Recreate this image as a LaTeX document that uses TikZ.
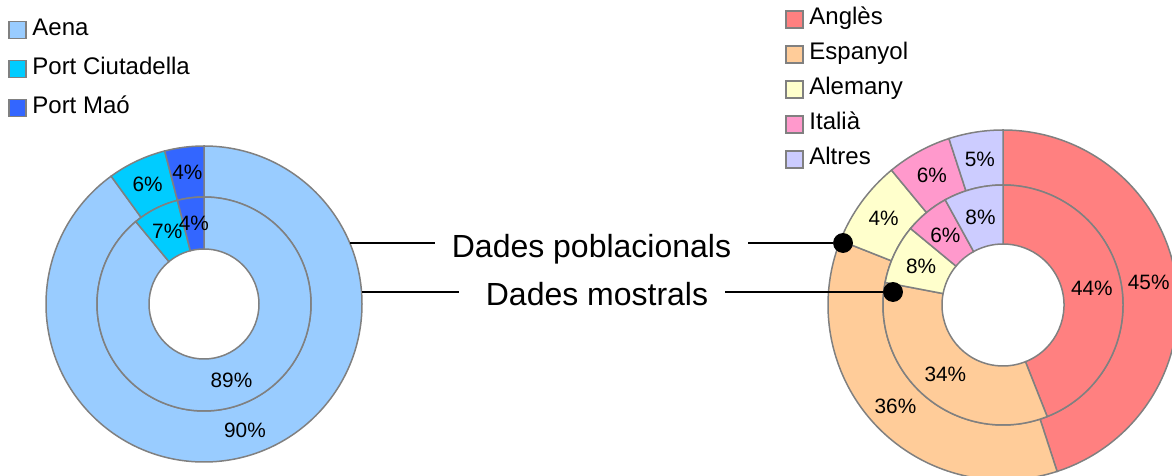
\documentclass[tikz,border=0pt]{standalone}
\usepackage{fontspec}
\setmainfont{Liberation Sans}
\usetikzlibrary{calc,positioning}
\definecolor{aena}{HTML}{99CCFF}
\definecolor{ciutadella}{HTML}{00CCFF}
\definecolor{mao}{HTML}{3366FF}
\definecolor{angles}{HTML}{FF8080}
\definecolor{espanyol}{HTML}{FFCC99}
\definecolor{alemany}{HTML}{FFFFCC}
\definecolor{italia}{HTML}{FF99CC}
\definecolor{altres}{HTML}{CCCCFF}
\tikzset{%
  seg/.style={draw=gray,line width=0.75pt},
  pct/.style={font=\fontsize{10.4}{12}\selectfont,inner sep=0},
  key/.style={draw=gray,line width=0.8pt,minimum size=8.5pt,inner sep=0,outer sep=0},
  keytext/.style={font=\fontsize{12}{14}\selectfont,inner sep=0,text height=1ex,text depth=0pt},
  tag/.style={font=\fontsize{16}{19}\selectfont,inner xsep=8pt},
  bdot/.style={draw,shape=circle,fill=black,inner sep=0,minimum size=9.5pt},
  lead/.style={line width=1pt}
}
% one ring of a donut: centre, inner radius, outer radius, name, share/label/colour list
\newcommand{\donutring}[5]{%
  \foreach \p/\lab/\col [count=\i, remember=\ea as \sa (initially 90),
      evaluate=\p as \ea using \sa-3.6*\p,
      evaluate=\p as \ma using \sa-1.8*\p] in {#5} {
    \filldraw[seg,fill=\col] ($(#1)+(\sa:#3)$) arc[start angle=\sa,end angle=\ea,radius=#3]
      -- ($(#1)+(\ea:#2)$) arc[start angle=\ea,end angle=\sa,radius=#2] -- cycle;
    \node[pct] (#4\i) at ($(#1)+(\ma:{(#2+#3)/2})$) {\lab\%};
  }%
}

\begin{document}
\begin{tikzpicture}[x=0.5pt,y=0.5pt]
    \clip (0,0) rectangle (1172,476);
    \coordinate (Lc) at (204,172);
    \coordinate (Rc) at (1003,171);
    \donutring{Lc}{107}{158}{lo}{90/90/aena,6/6/ciutadella,4/4/mao}
    \donutring{Lc}{55}{107}{li}{89/89/aena,7/7/ciutadella,4/4/mao}
    \donutring{Rc}{120}{175}{ro}{45/45/angles,36/36/espanyol,8/4/alemany,6/6/italia,5/5/altres}
    \donutring{Rc}{61}{120}{ri}{44/44/angles,34/34/espanyol,8/8/alemany,6/6/italia,8/8/altres}
    % legends
    \node[key,fill=aena] (kaena) at (17.5,446) {};
    \node[key,fill=ciutadella,below=11pt of kaena] (kciut) {};
    \node[key,fill=mao,below=11pt of kciut] (kmao) {};
    \node[keytext,right=3pt of kaena] (taena) {Aena};
    \node[keytext,right=3pt of kciut] (tciut) {Port Ciutadella};
    \node[keytext,right=3pt of kmao] (tmao) {Port Maó};
    \node[key,fill=angles] (kangles) at (794.5,456.5) {};
    \node[key,fill=espanyol,below=9pt of kangles] (kespanyol) {};
    \node[key,fill=alemany,below=9pt of kespanyol] (kalemany) {};
    \node[key,fill=italia,below=9pt of kalemany] (kitalia) {};
    \node[key,fill=altres,below=9pt of kitalia] (kaltres) {};
    \node[keytext,right=3pt of kangles] (tangles) {Anglès};
    \node[keytext,right=3pt of kespanyol] (tespanyol) {Espanyol};
    \node[keytext,right=3pt of kalemany] (talemany) {Alemany};
    \node[keytext,right=3pt of kitalia] (titalia) {Italià};
    \node[keytext,right=3pt of kaltres] (taltres) {Altres};
    % leaders
    \node[tag,anchor=base] (pob) at (591.5,218) {Dades poblacionals};
    \node[tag,anchor=base] (mos) at (597,170) {Dades mostrals};
    \coordinate (pobL) at ($(Lc)+(22.7:158)$);
    \coordinate (mosL) at ($(Lc)+(4.4:158)$);
    \node[bdot] (pobD) at (843,233) {};
    \node[bdot] (mosD) at (893,184) {};
    \draw[lead] (pobL) -- (pob.west |- pobL);
    \draw[lead] (pobD) -- (pob.east |- pobD);
    \draw[lead] (mosL) -- ([xshift=-5pt]mos.west |- mosL);
    \draw[lead] (mosD) -- (mos.east |- mosD);
\end{tikzpicture}
\end{document}
